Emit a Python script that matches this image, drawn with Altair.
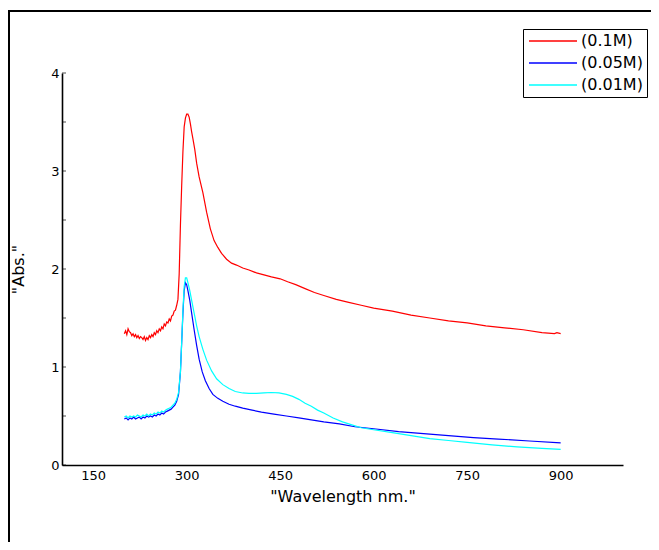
import altair as alt
import pandas as pd

# ---- data ----
series_names = ["(0.1M)", "(0.05M)", "(0.01M)"]
series_colors = ["#ff0000", "#0000ff", "#00ffff"]

wl_01 = [200, 202, 204, 206, 208, 210, 212, 214, 216, 218, 220, 222, 224, 226, 228, 230,
         232, 234, 236, 238, 240, 242, 244, 246, 248, 250, 252, 254, 256, 258, 260, 262,
         264, 266, 268, 270, 272, 274, 276, 278, 280, 282, 284, 286, 288, 290, 292, 294,
         296, 298, 300, 302, 304, 306, 308, 310, 313, 316, 320, 326, 332, 338, 344, 350,
         356, 364, 372, 380, 390, 400, 412, 424, 436, 450, 462, 475, 490, 505, 520, 540,
         560, 580, 600, 630, 660, 690, 720, 750, 780, 810, 840, 870, 890, 894, 900]
abs_01 = [1.34, 1.37, 1.33, 1.39, 1.36, 1.35, 1.32, 1.34, 1.31, 1.33, 1.30, 1.32, 1.29, 1.31, 1.30, 1.28,
          1.31, 1.27, 1.30, 1.28, 1.32, 1.30, 1.33, 1.31, 1.35, 1.33, 1.37, 1.35, 1.39, 1.37, 1.41, 1.39,
          1.44, 1.42, 1.46, 1.45, 1.49, 1.47, 1.52, 1.53, 1.57, 1.58, 1.63, 1.69, 1.95, 2.45, 2.85, 3.20,
          3.45, 3.54, 3.58, 3.58, 3.55, 3.48, 3.40, 3.33, 3.22, 3.08, 2.94, 2.78, 2.58, 2.41, 2.29, 2.22,
          2.16, 2.10, 2.06, 2.04, 2.01, 1.99, 1.96, 1.94, 1.92, 1.90, 1.87, 1.84, 1.80, 1.76, 1.73, 1.69,
          1.66, 1.63, 1.60, 1.57, 1.53, 1.50, 1.47, 1.45, 1.42, 1.40, 1.38, 1.35, 1.34, 1.35, 1.34]

wl_005 = [200, 203, 206, 209, 212, 215, 218, 221, 224, 227, 230, 233, 236, 239, 242, 245,
          248, 251, 254, 257, 260, 263, 266, 269, 272, 275, 278, 281, 284, 287, 290, 292,
          294, 296, 298, 300, 302, 305, 308, 312, 316, 320, 325, 330, 336, 342, 350, 358,
          368, 378, 390, 405, 420, 440, 460, 480, 500, 520, 545, 570, 600, 640, 680, 720,
          760, 800, 850, 900]
abs_005 = [0.47, 0.48, 0.46, 0.48, 0.47, 0.49, 0.47, 0.48, 0.49, 0.47, 0.49, 0.48, 0.50, 0.49, 0.50, 0.49,
           0.51, 0.50, 0.52, 0.51, 0.53, 0.52, 0.54, 0.55, 0.56, 0.57, 0.59, 0.61, 0.65, 0.72, 0.95, 1.25,
           1.55, 1.78, 1.86, 1.84, 1.78, 1.68, 1.55, 1.38, 1.22, 1.08, 0.95, 0.86, 0.78, 0.72, 0.68, 0.65,
           0.62, 0.60, 0.58, 0.56, 0.54, 0.52, 0.50, 0.48, 0.46, 0.44, 0.42, 0.39, 0.37, 0.34, 0.32, 0.30,
           0.28, 0.265, 0.245, 0.225]

wl_001 = [200, 203, 206, 209, 212, 215, 218, 221, 224, 227, 230, 233, 236, 239, 242, 245,
          248, 251, 254, 257, 260, 263, 266, 269, 272, 275, 278, 281, 284, 287, 290, 292,
          294, 296, 298, 300, 302, 305, 308, 312, 316, 320, 326, 332, 340, 348, 358, 368,
          378, 390, 400, 412, 424, 436, 448, 460, 470, 480, 490, 500, 510, 520, 535, 550,
          565, 580, 600, 630, 660, 690, 720, 750, 790, 830, 870, 900]
abs_001 = [0.49, 0.50, 0.48, 0.50, 0.49, 0.50, 0.49, 0.51, 0.50, 0.49, 0.51, 0.50, 0.52, 0.50, 0.52, 0.51,
           0.53, 0.52, 0.54, 0.53, 0.55, 0.54, 0.56, 0.57, 0.58, 0.59, 0.61, 0.63, 0.67, 0.74, 0.95, 1.25,
           1.58, 1.82, 1.91, 1.91, 1.86, 1.78, 1.68, 1.55, 1.42, 1.31, 1.18, 1.07, 0.96, 0.88, 0.82, 0.78,
           0.75, 0.735, 0.73, 0.73, 0.735, 0.74, 0.735, 0.72, 0.70, 0.67, 0.63, 0.60, 0.56, 0.53, 0.48, 0.44,
           0.41, 0.38, 0.36, 0.33, 0.30, 0.27, 0.25, 0.23, 0.205, 0.185, 0.17, 0.16]

x_tick_values = [150, 300, 450, 600, 750, 900]
y_label_values = [0, 1, 2, 3, 4]
y_minor_ticks = [0, 0.5, 1, 1.5, 2, 2.5, 3, 3.5, 4]

# ---- build table ----
rows = []
for order, (name, wls, vals) in enumerate(zip(series_names, [wl_01, wl_005, wl_001],
                                              [abs_01, abs_005, abs_001])):
    for w, a in zip(wls, vals):
        rows.append({"wl": w, "abs": a, "series": name, "ord": order})
df = pd.DataFrame(rows)

FONT = "DejaVu Sans"

y_axis = alt.Axis(values=y_label_values, title='"Abs."', ticks=False,
                  labelPadding=3, titlePadding=24)
y_scale = alt.Scale(domain=[0, 4], nice=False)

lines = alt.Chart(df).mark_line(strokeWidth=1.2, clip=True).encode(
    x=alt.X("wl:Q", scale=alt.Scale(domain=[100, 1000], nice=False, zero=False),
            axis=alt.Axis(values=x_tick_values, title='"Wavelength nm."', ticks=False,
                          labelPadding=4, titlePadding=6)),
    y=alt.Y("abs:Q", scale=y_scale, axis=y_axis),
    color=alt.Color("series:N", scale=alt.Scale(domain=series_names, range=series_colors),
                    legend=alt.Legend(title=None, orient="none", legendX=461, legendY=-44,
                                      strokeColor="black", fillColor="white", padding=4,
                                      labelFontSize=16, labelFont=FONT, labelColor="black",
                                      symbolType="M-4,0H4", symbolSize=144,
                                      symbolOffset=18, labelOffset=20,
                                      symbolStrokeWidth=1.3, rowPadding=6)),
    order=alt.Order("ord:Q"),
)

minor = alt.Chart(pd.DataFrame({"abs": y_minor_ticks})).mark_tick(
    color="black", thickness=1, size=4, orient="horizontal"
).encode(y=alt.Y("abs:Q", scale=y_scale, axis=y_axis), x=alt.value(2))

frame = alt.Chart(pd.DataFrame({"a": [0]})).mark_rect(
    fillOpacity=0, stroke="black", strokeWidth=2, clip=False
).encode(x=alt.value(-53), x2=alt.value(700), y=alt.value(-62), y2=alt.value(700))

chart = alt.layer(frame, lines, minor).properties(
    width=561, height=392,
    padding={"left": 54, "top": 65, "right": 28, "bottom": 77},
    autosize=alt.AutoSizeParams(type="none"),
).configure_view(stroke=None).configure_axis(
    domainColor="black", domainWidth=1.6, grid=False,
    labelFont=FONT, labelFontSize=13, labelColor="black",
    titleFont=FONT, titleFontSize=16, titleFontWeight="normal", titleColor="black",
)

chart.save("out.html", embed_options={"renderer": "svg", "actions": False})
